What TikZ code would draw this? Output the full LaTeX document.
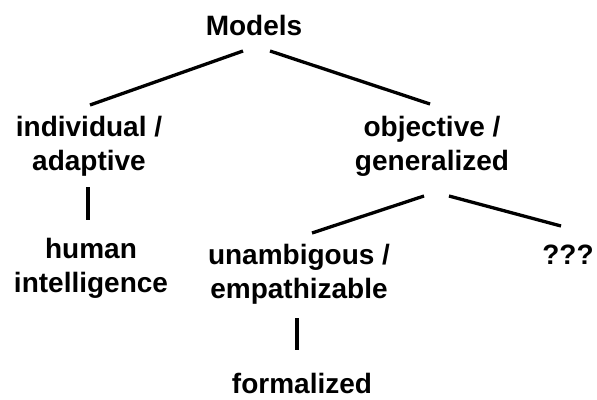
\documentclass[tikz,border=0pt]{standalone}
\usepackage{fontspec}
\setmainfont{Liberation Sans}
\begin{document}
\begin{tikzpicture}[x=1pt,y=-1pt,
  lbl/.style={inner sep=0pt, align=center, anchor=base,
    font=\fontsize{28}{34.5}\selectfont\bfseries},
  edge/.style={line width=3.3pt}]
\useasboundingbox (0,0) rectangle (597,399);
\node[lbl] (models) at (254,35) {Models};
\node[lbl] (indiv) at (89,170.5) {individual /\\adaptive};
\node[lbl] (obj) at (432,170.5) {objective /\\generalized};
\node[lbl] (human) at (91,292.5) {human\\intelligence};
\node[lbl] (unamb) at (299,298.5) {unambigous /\\empathizable};
\node[lbl] (qqq) at (568,264) {???};
\node[lbl] (formal) at (302,393) {formalized};
\coordinate (mL) at (243,51);
\coordinate (mR) at (270,51);
\coordinate (iT) at (90,105);
\coordinate (oT) at (430,104);
\coordinate (iB) at (88,187);
\coordinate (hT) at (88,220);
\coordinate (oL) at (424,196);
\coordinate (oR) at (449,196);
\coordinate (uT) at (312,233);
\coordinate (qT) at (561,226);
\coordinate (uB) at (297,318);
\coordinate (fT) at (297,350);
\draw[edge] (mL) -- (iT);
\draw[edge] (mR) -- (oT);
\draw[edge] (iB) -- (hT);
\draw[edge] (oL) -- (uT);
\draw[edge] (oR) -- (qT);
\draw[edge] (uB) -- (fT);
\end{tikzpicture}
\end{document}
